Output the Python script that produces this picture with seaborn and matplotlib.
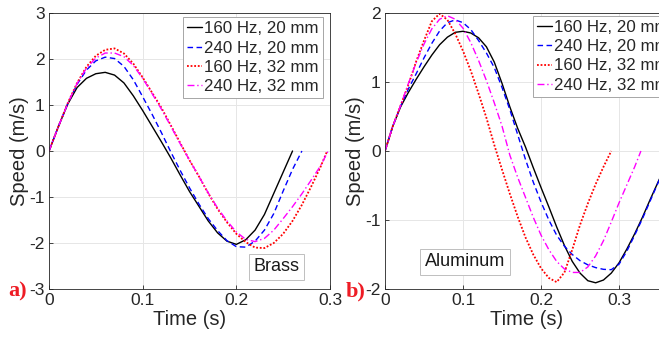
import numpy as np
import pandas as pd
import matplotlib
matplotlib.use('Agg')
import matplotlib.pyplot as plt
import seaborn as sns

# ---- Brass panel (a) ----
t_brass_160_20 = [0.00, 0.01, 0.02, 0.03, 0.04, 0.05, 0.06, 0.07, 0.08, 0.09, 0.10, 0.11, 0.12, 0.13,
                  0.14, 0.15, 0.16, 0.17, 0.18, 0.19, 0.20, 0.21, 0.22, 0.23, 0.24, 0.25, 0.26]
v_brass_160_20 = [0.00, 0.53, 1.02, 1.38, 1.58, 1.68, 1.71, 1.65, 1.48, 1.20, 0.88, 0.54, 0.20, -0.15,
                  -0.52, -0.88, -1.20, -1.52, -1.78, -1.96, -2.03, -1.93, -1.72, -1.38, -0.92, -0.46, 0.00]

t_brass_240_20 = [0.00, 0.01, 0.02, 0.03, 0.04, 0.05, 0.06, 0.07, 0.08, 0.09, 0.10, 0.11, 0.12, 0.13,
                  0.14, 0.15, 0.16, 0.17, 0.18, 0.19, 0.20, 0.21, 0.22, 0.23, 0.24, 0.25, 0.26, 0.27]
v_brass_240_20 = [0.00, 0.53, 1.03, 1.45, 1.76, 1.96, 2.04, 2.01, 1.84, 1.55, 1.18, 0.80, 0.40, -0.02,
                  -0.42, -0.80, -1.15, -1.47, -1.73, -1.95, -2.08, -2.09, -1.96, -1.72, -1.36, -0.87, -0.40, 0.00]

t_brass_160_32 = [0.00, 0.01, 0.02, 0.03, 0.04, 0.05, 0.06, 0.07, 0.08, 0.09, 0.10, 0.11, 0.12, 0.13,
                  0.14, 0.15, 0.16, 0.17, 0.18, 0.19, 0.20, 0.21, 0.22, 0.23, 0.24, 0.25, 0.26, 0.27,
                  0.28, 0.29, 0.297]
v_brass_160_32 = [0.00, 0.53, 1.04, 1.48, 1.83, 2.07, 2.20, 2.23, 2.12, 1.90, 1.60, 1.27, 0.94, 0.56,
                  0.18, -0.20, -0.55, -0.92, -1.26, -1.55, -1.80, -1.98, -2.10, -2.11, -2.00, -1.80, -1.52, -1.17,
                  -0.77, -0.34, 0.00]

t_brass_240_32 = [0.00, 0.01, 0.02, 0.03, 0.04, 0.05, 0.06, 0.07, 0.08, 0.09, 0.10, 0.11, 0.12, 0.13,
                  0.14, 0.15, 0.16, 0.17, 0.18, 0.19, 0.20, 0.21, 0.22, 0.23, 0.24, 0.25, 0.26, 0.27,
                  0.28, 0.29, 0.298]
v_brass_240_32 = [0.00, 0.53, 1.03, 1.47, 1.80, 2.02, 2.13, 2.13, 2.05, 1.86, 1.58, 1.25, 0.91, 0.54,
                  0.16, -0.20, -0.55, -0.91, -1.24, -1.52, -1.76, -1.92, -1.97, -1.90, -1.72, -1.47, -1.21, -0.93,
                  -0.63, -0.32, 0.00]

# ---- Aluminum panel (b) ----
t_alu_160_20 = [0.00, 0.01, 0.02, 0.03, 0.04, 0.05, 0.06, 0.07, 0.08, 0.09, 0.10, 0.11, 0.12, 0.13,
                0.14, 0.15, 0.16, 0.17, 0.18, 0.19, 0.20, 0.21, 0.22, 0.23, 0.24, 0.25, 0.26, 0.27,
                0.28, 0.29, 0.30, 0.31, 0.32, 0.33, 0.34, 0.35, 0.36]
v_alu_160_20 = [0.00, 0.36, 0.64, 0.85, 1.04, 1.22, 1.39, 1.54, 1.65, 1.72, 1.735, 1.71, 1.64, 1.51,
                1.29, 0.98, 0.64, 0.33, 0.06, -0.24, -0.53, -0.81, -1.10, -1.37, -1.60, -1.77, -1.88, -1.91,
                -1.87, -1.77, -1.62, -1.42, -1.20, -0.96, -0.70, -0.45, -0.20]

t_alu_240_20 = [0.00, 0.01, 0.02, 0.03, 0.04, 0.05, 0.06, 0.07, 0.08, 0.09, 0.10, 0.11, 0.12, 0.13,
                0.14, 0.15, 0.16, 0.17, 0.18, 0.19, 0.20, 0.21, 0.22, 0.23, 0.24, 0.25, 0.26, 0.27,
                0.28, 0.29, 0.30, 0.31, 0.32, 0.33, 0.34, 0.35, 0.36]
v_alu_240_20 = [0.00, 0.36, 0.65, 0.90, 1.12, 1.35, 1.56, 1.74, 1.86, 1.90, 1.86, 1.76, 1.60, 1.42,
                1.21, 0.92, 0.60, 0.24, -0.12, -0.45, -0.74, -1.00, -1.22, -1.38, -1.50, -1.59, -1.65, -1.69,
                -1.715, -1.72, -1.64, -1.45, -1.22, -0.98, -0.72, -0.46, -0.20]

t_alu_160_32 = [0.00, 0.01, 0.02, 0.03, 0.04, 0.05, 0.06, 0.07, 0.08, 0.09, 0.10, 0.11, 0.12, 0.13,
                0.14, 0.15, 0.16, 0.17, 0.18, 0.19, 0.20, 0.21, 0.22, 0.23, 0.24, 0.25, 0.26, 0.27,
                0.28, 0.29]
v_alu_160_32 = [0.00, 0.36, 0.66, 0.96, 1.30, 1.60, 1.88, 1.99, 1.90, 1.70, 1.45, 1.16, 0.83, 0.48,
                0.09, -0.27, -0.62, -0.95, -1.25, -1.50, -1.70, -1.84, -1.90, -1.76, -1.43, -1.07, -0.76, -0.48,
                -0.23, 0.00]

t_alu_240_32 = [0.00, 0.01, 0.02, 0.03, 0.04, 0.05, 0.06, 0.07, 0.08, 0.09, 0.10, 0.11, 0.12, 0.13,
                0.14, 0.15, 0.16, 0.17, 0.18, 0.19, 0.20, 0.21, 0.22, 0.23, 0.24, 0.25, 0.26, 0.27,
                0.28, 0.29, 0.30, 0.31, 0.32, 0.328]
v_alu_240_32 = [0.00, 0.36, 0.66, 0.98, 1.28, 1.55, 1.77, 1.91, 1.96, 1.91, 1.78, 1.57, 1.31, 1.02,
                0.70, 0.36, -0.06, -0.38, -0.67, -0.96, -1.22, -1.43, -1.60, -1.71, -1.76, -1.76, -1.68, -1.52,
                -1.30, -1.03, -0.75, -0.49, -0.23, 0.00]

labels = ['160 Hz, 20 mm', '240 Hz, 20 mm', '160 Hz, 32 mm', '240 Hz, 32 mm']
colors = ['#000000', '#0000ff', '#ff0000', '#ff00ff']
styles = ['-', (0, (4, 2.5)), (0, (1, 1)), (0, (5, 2, 1, 2))]

brass = [(t_brass_160_20, v_brass_160_20), (t_brass_240_20, v_brass_240_20),
         (t_brass_160_32, v_brass_160_32), (t_brass_240_32, v_brass_240_32)]
alu = [(t_alu_160_20, v_alu_160_20), (t_alu_240_20, v_alu_240_20),
       (t_alu_160_32, v_alu_160_32), (t_alu_240_32, v_alu_240_32)]

sns.set_style('ticks')
plt.rcParams['font.family'] = ['Liberation Sans', 'DejaVu Sans']
plt.rcParams['axes.unicode_minus'] = False

fig = plt.figure(figsize=(6.59, 3.41), dpi=100)
ax_a = fig.add_axes([49 / 659, 52 / 341, 281 / 659, 276 / 341])
ax_b = fig.add_axes([385 / 659, 52 / 341, 284 / 659, 276 / 341])

dark = '#262626'


def draw_panel(ax, series, xlim, ylim, yticks, legend_anchor, legend_loc):
    for (t, v), lab, col, ls in zip(series, labels, colors, styles):
        lw = 1.3 if ls == (0, (1, 1)) else 1.0
        sns.lineplot(x=t, y=v, ax=ax, color=col, linestyle=ls, linewidth=lw,
                     label=lab, sort=False, estimator=None)
    ax.set_xlim(*xlim)
    ax.set_ylim(*ylim)
    ax.set_xticks([0, 0.1, 0.2, 0.3])
    ax.set_xticklabels(['0', '0.1', '0.2', '0.3'])
    ax.set_yticks(yticks)
    ax.set_yticklabels([str(y) for y in yticks])
    ax.grid(True, color='#e6e6e6', linewidth=0.7)
    ax.set_axisbelow(True)
    for sp in ax.spines.values():
        sp.set_color(dark)
        sp.set_linewidth(0.6)
    ax.tick_params(direction='in', length=3, width=0.6, colors=dark, labelsize=12.5, pad=3)
    ax.set_xlabel('Time (s)', fontsize=14.5, color=dark, labelpad=1)
    ax.set_ylabel('Speed (m/s)', fontsize=14.5, color=dark, labelpad=0)
    leg = ax.legend(loc=legend_loc, bbox_to_anchor=legend_anchor, fontsize=12.2,
                    handlelength=0.9, handletextpad=0.1, borderpad=0.25, labelspacing=0.25,
                    borderaxespad=0, fancybox=False, framealpha=1, edgecolor='#a6a6a6')
    leg.get_frame().set_linewidth(0.7)


draw_panel(ax_a, brass, (0, 0.3), (-3, 3), [-3, -2, -1, 0, 1, 2, 3], (0.975, 0.985), 'upper right')
draw_panel(ax_b, alu, (0, 0.364), (-2, 2), [-2, -1, 0, 1, 2], (0.521, 0.99), 'upper left')

box = dict(boxstyle='square,pad=0.25', fc='white', ec='#bfbfbf', lw=0.7)
ax_a.text(0.808, 0.08, 'Brass', transform=ax_a.transAxes, ha='center', va='center',
          fontsize=13, color='#1a1a1a', bbox=box)
ax_b.text(0.282, 0.098, 'Aluminum', transform=ax_b.transAxes, ha='center', va='center',
          fontsize=13, color='#1a1a1a', bbox=box)

fig.text(8 / 659, (341 - 296) / 341, 'a)', fontsize=16, fontweight='bold', color='#ee1c25',
         family=['Liberation Serif', 'DejaVu Serif'], va='baseline')
fig.text(346 / 659, (341 - 296) / 341, 'b)', fontsize=16, fontweight='bold', color='#ee1c25',
         family=['Liberation Serif', 'DejaVu Serif'], va='baseline')

fig.savefig('out.png', dpi=100)
